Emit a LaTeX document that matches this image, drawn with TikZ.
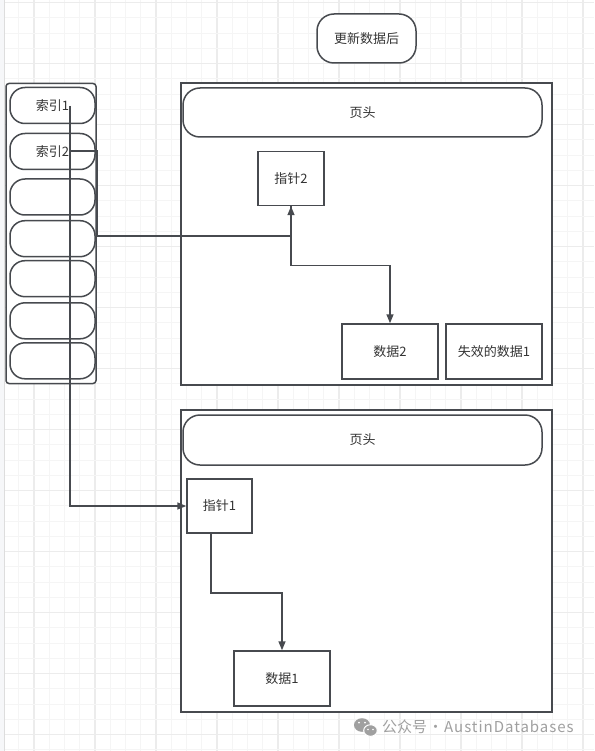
\documentclass[tikz,border=0pt]{standalone}
\usepackage{fontspec}
\setmainfont{Noto Sans CJK SC}
\newfontfamily\wmlatin[LetterSpace=6.5]{Noto Sans CJK SC}
\usetikzlibrary{arrows.meta}
\definecolor{lc}{HTML}{474A4F}
\definecolor{tc}{HTML}{333333}
\definecolor{gminor}{HTML}{F5F5F5}
\definecolor{gmajor}{HTML}{ECECEC}
\definecolor{wm}{HTML}{A0A0A0}
\definecolor{strip}{HTML}{F6F7F9}
\definecolor{stripline}{HTML}{DDDDDD}
\tikzset{
  base/.style={draw=lc, line width=1.5pt, fill=white, inner sep=0pt, text=tc,
    font=\fontsize{13pt}{15pt}\selectfont},
  sqbox/.style={base, rectangle},
  pillbox/.style={base, rectangle, rounded corners=17pt},
  itembox/.style={base, rectangle, rounded corners=15pt, minimum width=85pt, minimum height=36pt},
  conn/.style={draw=lc, line width=1.5pt},
  arr/.style={conn, -{Triangle[length=9pt,width=7pt]}},
}
\begin{document}
\begin{tikzpicture}[x=1pt,y=-1pt]
\useasboundingbox (0,0) rectangle (594,751);
\fill[white] (0,0) rectangle (594,751);
% grid
\foreach \i in {0,...,38} {
  \pgfmathsetmacro{\xx}{3.5+15.25*\i}
  \pgfmathtruncatemacro{\m}{mod(\i,4)}
  \ifnum\m=2
    \draw[gmajor, line width=1.2pt] (\xx,0) -- (\xx,751);
  \else
    \draw[gminor, line width=1pt] (\xx,0) -- (\xx,751);
  \fi
}
\foreach \j in {0,...,49} {
  \pgfmathsetmacro{\yy}{2.7+15.25*\j}
  \pgfmathtruncatemacro{\m}{mod(\j,4)}
  \ifnum\m=0
    \draw[gmajor, line width=1.2pt] (0,\yy) -- (594,\yy);
  \else
    \draw[gminor, line width=1pt] (0,\yy) -- (594,\yy);
  \fi
}
\fill[strip] (0,0) rectangle (4,751);
\draw[stripline, line width=0.8pt] (4.5,0) -- (4.5,751);

% title
\node[pillbox, minimum width=99pt, minimum height=49pt] (title) at (366.5,38.5) {更新数据后};

% index column
\node[sqbox, rounded corners=3pt, minimum width=90pt, minimum height=300pt] (idx) at (51,233.5) {};
\node[itembox] (i1) at (52.5,105.5) {索引1};
\node[itembox] (i2) at (52.5,151.5) {索引2};
\node[itembox] (i3) at (52.5,197) {};
\node[itembox] (i4) at (52.5,238.7) {};
\node[itembox] (i5) at (52.5,278.7) {};
\node[itembox] (i6) at (52.5,320.8) {};
\node[itembox] (i7) at (52.5,360.8) {};

% page 1
\node[sqbox, minimum width=371pt, minimum height=302pt] (pg1) at (366.5,234) {};
\node[pillbox, minimum width=359pt, minimum height=49pt] (h1) at (362.5,112.5) {页头};
\node[sqbox, minimum width=66pt, minimum height=54pt] (q2) at (291,178.5) {指针2};
\node[sqbox, minimum width=96pt, minimum height=55pt] (d2) at (390,351.5) {数据2};
\node[sqbox, minimum width=96pt, minimum height=55pt] (x1) at (494,351.5) {失效的数据1};

% page 2
\node[sqbox, minimum width=371pt, minimum height=302pt] (pg2) at (366.5,561) {};
\node[pillbox, minimum width=359pt, minimum height=50pt] (h2) at (362.5,440) {页头};
\node[sqbox, minimum width=65pt, minimum height=54pt] (p1) at (219.5,506) {指针1};
\node[sqbox, minimum width=96pt, minimum height=55pt] (d1) at (282,678.5) {数据1};

% connectors
\coordinate (s1) at (70,106);
\coordinate (s2) at (70,151);
\coordinate (b2a) at (97,151);
\coordinate (b2b) at (97,236);
\draw[arr] (s1) |- (p1.west);
\draw[arr] (s2) -- (b2a) -- (b2b) -| (q2.south);
\draw[arr] (q2.south) -- ++(0,59) -| (d2.north);
\draw[arr] ([xshift=-8.5pt]p1.south) -- ++(0,59) -| (d1.north);

% watermark
\fill[wm] (362,725) ellipse [x radius=8pt, y radius=6.8pt];
\draw[white, line width=1pt, fill=wm] (370.5,730.5) ellipse [x radius=6.8pt, y radius=5.8pt];
\fill[white] (359,722.5) circle (1pt) (365,722.5) circle (1pt);
\fill[white] (368,729.5) circle (0.8pt) (373,729.5) circle (0.8pt);
\node[anchor=west, inner sep=0pt, text=wm, font=\fontsize{15pt}{17pt}\selectfont] (wmtext) at (382,727) {公众号\hspace{1pt}·\hspace{1pt}{\wmlatin AustinDatabases}};
\end{tikzpicture}
\end{document}
